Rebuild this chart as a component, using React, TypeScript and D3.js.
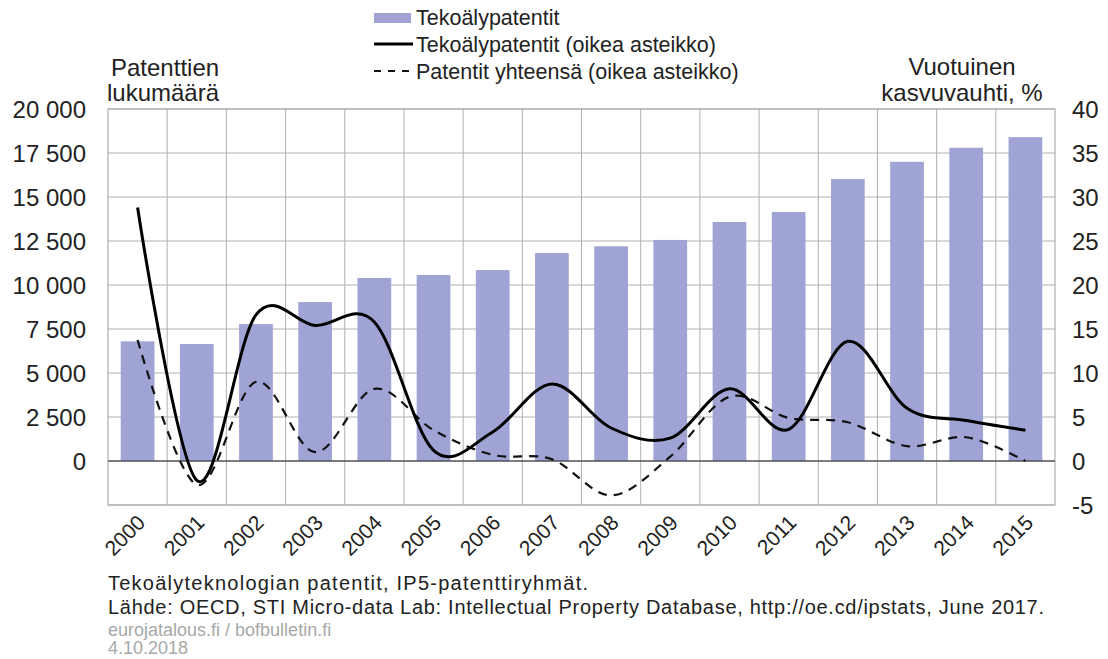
import React from "react";
import * as d3 from "d3";

const years = ["2000","2001","2002","2003","2004","2005","2006","2007","2008","2009","2010","2011","2012","2013","2014","2015"];
const aiPatents = [6800, 6650, 7780, 9030, 10400, 10570, 10850, 11820, 12200, 12560, 13580, 14150, 16020, 17000, 17800, 18400];
const aiGrowth = [28.8, -2.2, 16.6, 15.4, 15.8, 1.2, 3.3, 8.75, 3.75, 2.6, 8.2, 3.6, 13.6, 6.0, 4.6, 3.5];
const totalGrowth = [13.75, -2.7, 9.0, 1.0, 8.2, 3.5, 0.7, 0.2, -3.9, 0.5, 7.3, 4.9, 4.4, 1.7, 2.7, 0.0];
const leftTicks = [0, 2500, 5000, 7500, 10000, 12500, 15000, 17500, 20000];
const rightTicks = [-5, 0, 5, 10, 15, 20, 25, 30, 35, 40];

const W = 1108, H = 659;
const L = 108, R = 1055, T = 109, B = 505;
const FONT = "'Liberation Sans', Arial, sans-serif";

export default function App() {
  const x = d3.scaleBand<string>().domain(years).range([L, R]).paddingInner(0.43).paddingOuter(0.215);
  const xb = d3.scaleBand<string>().domain(years).range([L, R]);
  const yR = d3.scaleLinear().domain([-5, 40]).range([B, T]);
  const yL = d3.scaleLinear().domain([-2500, 20000]).range([B, T]);
  const cx = (y: string) => xb(y)! + xb.bandwidth() / 2;
  const line = d3.line<number>().x((_, i) => cx(years[i])).y(d => yR(d)).curve(d3.curveCardinal.tension(0));
  const fmt = (v: number) => d3.format(",")(v).replace(/,/g, " ");

  return (
    <svg width={W} height={H} style={{ position: "absolute", left: 0, top: 0, background: "#fff" }} fontFamily={FONT}>
      {/* grid */}
      {rightTicks.map(t => (
        <line key={"h" + t} x1={L} x2={R} y1={yR(t)} y2={yR(t)} stroke="#b0b0b0" strokeWidth={1} />
      ))}
      {years.map((y, i) => i > 0 ? (
        <line key={"v" + y} x1={xb(y)} x2={xb(y)} y1={T} y2={B} stroke="#b0b0b0" strokeWidth={1} />
      ) : null)}
      <rect x={L} y={T} width={R - L} height={B - T} fill="none" stroke="#b0b0b0" strokeWidth={1.2} />
      {/* bars */}
      {years.map((y, i) => (
        <rect key={"b" + y} x={x(y)} y={yL(aiPatents[i])} width={x.bandwidth()} height={yL(0) - yL(aiPatents[i])} fill="#a0a4d4" />
      ))}
      <line x1={L} x2={R} y1={yR(0)} y2={yR(0)} stroke="#222" strokeWidth={1.2} />
      {/* lines */}
      <path d={line(totalGrowth)!} fill="none" stroke="#111" strokeWidth={2.2} strokeDasharray="9,7" />
      <path d={line(aiGrowth)!} fill="none" stroke="#000" strokeWidth={3} />
      {/* left axis */}
      {leftTicks.map(t => (
        <text key={"l" + t} x={86} y={yL(t)} dy="0.36em" textAnchor="end" fontSize={24} fill="#222">{fmt(t)}</text>
      ))}
      {rightTicks.map(t => (
        <text key={"r" + t} x={1072} y={yR(t)} dy="0.36em" textAnchor="start" fontSize={24} fill="#222">{t}</text>
      ))}
      {/* x labels */}
      {years.map(y => (
        <text key={"x" + y} transform={`translate(${cx(y) + 9},${B + 19}) rotate(-45)`} textAnchor="end" fontSize={21} fill="#222">{y}</text>
      ))}
      {/* axis titles */}
      <text x={111} y={76} fontSize={24} fill="#222">Patenttien</text>
      <text x={107} y={101} fontSize={24} fill="#222">lukumäärä</text>
      <text x={962} y={75} fontSize={24} fill="#222" textAnchor="middle">Vuotuinen</text>
      <text x={962} y={101} fontSize={24} fill="#222" textAnchor="middle">kasvuvauhti, %</text>
      {/* legend */}
      <rect x={374} y={13} width={37} height={10} fill="#a0a4d4" />
      <text x={416} y={25} fontSize={21.5} fill="#222">Tekoälypatentit</text>
      <line x1={374} x2={413} y1={44} y2={44} stroke="#000" strokeWidth={3} />
      <text x={416} y={52} fontSize={21.5} fill="#222">Tekoälypatentit (oikea asteikko)</text>
      <line x1={374} x2={413} y1={71} y2={71} stroke="#111" strokeWidth={2.2} strokeDasharray="7,7" />
      <text x={416} y={79} fontSize={21.5} fill="#222">Patentit yhteensä (oikea asteikko)</text>
      {/* footer */}
      <text x={108} y={590} fontSize={20} fill="#222" textLength={480} lengthAdjust="spacing">Tekoälyteknologian patentit, IP5-patenttiryhmät.</text>
      <text x={108} y={614} fontSize={20} fill="#222" textLength={936} lengthAdjust="spacing">Lähde: OECD, STI Micro-data Lab: Intellectual Property Database, http://oe.cd/ipstats, June 2017.</text>
      <text x={108} y={636} fontSize={18} fill="#a8a8a8">eurojatalous.fi / bofbulletin.fi</text>
      <text x={108} y={654} fontSize={18} fill="#a8a8a8">4.10.2018</text>
    </svg>
  );
}
